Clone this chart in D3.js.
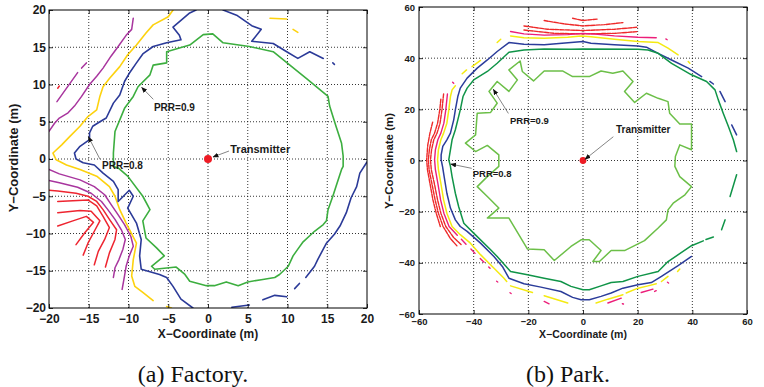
<!DOCTYPE html>
<html>
<head>
<meta charset="utf-8">
<script src="https://cdn.jsdelivr.net/npm/d3@7"></script>
<style>
body { margin: 0; background: #fff; }
svg { display: block; }
</style>
</head>
<body>
<svg id="chart" width="764" height="387"></svg>
<script>
// ---------- (a) Factory : contour data (metres) ----------
var factoryTicks = [-20, -15, -10, -5, 0, 5, 10, 15, 20];

var factoryGreen = [
  [[-11.9,-1.0],[-11.9,0.8],[-11.7,3.7],[-10.5,6.8],[-9.4,8.4],[-8.8,9.7],[-7.3,11.3],[-6.9,12.6],[-5.2,12.9],[-5.2,14.4],[-3.6,14.9],[-2.3,15.3],[-0.6,16.7],[0.6,16.8],[1.9,15.6],[5.2,15.1],[8.2,14.4],[10.3,12.6],[12.4,10.8],[15.1,8.4],[15.3,7.1],[16.1,4.4],[16.8,2.1],[17.0,0.4],[17.0,-1.0],[16.8,-1.4],[16.1,-3.7],[15.7,-5.0],[15.1,-6.8],[14.9,-8.3],[14.5,-8.8],[13.4,-9.7],[13.0,-10.1],[11.9,-11.2],[11.3,-12.1],[10.7,-13.0],[10.1,-14.4],[9.0,-15.5],[8.4,-15.9],[6.7,-16.2],[5.0,-16.5],[3.8,-17.0],[2.3,-16.5],[0.8,-17.0],[-0.2,-17.0],[-2.3,-16.4],[-2.9,-15.5],[-4.0,-14.5],[-6.7,-14.8],[-7.1,-14.4],[-5.5,-13.0],[-6.5,-11.9],[-7.8,-10.6],[-8.2,-8.3],[-7.3,-6.8],[-8.2,-5.0],[-10.1,-2.3],[-11.3,-1.2],[-11.9,-1.0]]
];

var factoryBlue = [
  [[-1.5,20.0],[-2.3,19.6],[-4.4,17.7],[-3.6,16.6],[-3.4,16.0],[-5.2,15.6],[-6.9,15.1],[-8.2,14.1],[-9.0,12.9],[-9.9,11.5],[-10.5,10.4],[-11.1,8.6],[-11.9,7.5],[-12.8,5.5],[-13.6,5.0],[-14.5,4.4],[-14.9,3.5],[-14.9,2.6],[-16.1,1.7],[-16.8,0.8],[-16.6,0.0],[-15.7,-0.5],[-14.3,-0.8],[-13.2,-1.9],[-11.9,-3.0],[-11.3,-4.1],[-11.3,-5.7],[-9.9,-4.2],[-9.4,-5.0],[-10.1,-6.6],[-9.0,-8.6],[-8.4,-10.8],[-8.6,-13.0],[-8.4,-14.8],[-6.1,-15.5],[-5.2,-15.9],[-4.4,-17.1],[-3.4,-18.8],[-1.9,-20.0]],
  [[1.9,20.0],[3.6,19.3],[5.5,17.9],[6.7,17.4],[5.5,15.8],[8.2,15.5],[9.9,14.4],[11.3,13.5],[12.8,14.4],[14.5,13.5]],
  [[15.7,12.9],[15.9,12.7]],
  [[20.0,-0.4],[19.1,-1.9],[18.7,-3.7],[18.0,-5.2],[17.4,-7.2],[16.6,-9.0],[15.9,-10.1],[14.9,-11.3],[14.5,-12.1],[13.8,-13.5],[13.4,-14.4],[12.3,-15.9]],
  [[11.5,-16.7],[10.9,-17.4]],
  [[9.9,-18.5],[8.4,-18.3],[6.9,-18.9]],
  [[5.2,-19.6],[3.0,-19.9]]
];

var factoryYellow = [
  [[-4.4,20.0],[-5.0,19.1],[-6.9,18.0],[-7.8,16.9],[-9.0,15.3],[-10.1,14.0],[-11.1,12.4],[-12.4,10.8],[-13.2,9.7],[-13.6,8.4],[-14.0,6.6],[-15.1,5.7],[-16.1,4.4],[-17.4,3.0],[-18.4,1.9],[-19.5,0.8],[-19.1,-0.1],[-17.8,-0.8],[-16.1,-1.4],[-14.0,-2.3],[-12.4,-3.7],[-11.7,-5.0],[-11.1,-6.8],[-10.3,-8.6],[-9.0,-11.3],[-9.4,-13.5],[-9.6,-15.7],[-9.2,-17.1],[-8.2,-17.9],[-6.9,-19.0]],
  [[-5.2,-19.8],[-4.6,-20.0]],
  [[7.8,18.9],[9.9,18.8]],
  [[10.7,17.4],[11.3,17.0]]
];

var factoryMagenta = [
  [[-9.4,18.9],[-9.6,17.4],[-10.3,16.6],[-11.3,15.1],[-12.2,13.8],[-13.2,12.2],[-14.0,11.1],[-14.9,10.0],[-15.9,8.4],[-16.8,7.1],[-17.6,6.2],[-18.7,5.5],[-19.3,4.8],[-20.0,3.7]],
  [[-19.0,7.7],[-16.4,11.6]],
  [[-15.9,12.2],[-15.3,12.9]],
  [[-20.0,-1.4],[-18.7,-2.0],[-16.1,-2.8],[-14.3,-3.7],[-13.0,-4.8],[-12.2,-6.1],[-11.3,-7.5],[-10.5,-8.8],[-9.7,-10.4],[-9.4,-11.7],[-9.9,-13.0],[-10.3,-14.4],[-10.5,-15.7],[-10.8,-17.5]],
  [[-20.0,-2.9],[-18.7,-3.2],[-16.4,-3.8],[-14.7,-4.6],[-13.4,-5.7],[-12.6,-6.8],[-11.7,-8.1],[-10.9,-9.5],[-10.4,-10.8],[-10.7,-12.1],[-11.2,-13.5],[-11.7,-14.6],[-11.9,-15.9]]
];

var factoryRed = [
  [[-18.9,9.5],[-18.7,9.8]],
  [[-20.0,-4.2],[-18.9,-4.3],[-16.6,-4.6],[-15.1,-5.0],[-14.0,-5.7],[-13.2,-6.8],[-12.4,-8.1],[-11.5,-9.5],[-11.7,-10.8],[-12.4,-12.6],[-12.9,-14.5]],
  [[-18.9,-5.7],[-15.1,-5.5],[-14.0,-6.3],[-13.2,-7.7],[-12.4,-9.2],[-13.0,-10.8],[-13.8,-12.4],[-14.3,-14.2]],
  [[-18.9,-7.2],[-16.1,-6.9],[-14.7,-7.0],[-13.6,-8.3],[-14.3,-9.7],[-15.1,-11.3],[-15.7,-12.9]],
  [[-18.9,-9.0],[-17.0,-8.3],[-15.3,-7.7],[-14.4,-8.5],[-15.5,-9.9],[-16.6,-11.5]]
];

var factoryNotes = [
  { label: "Transmitter", text: [2.8, 0.8], from: [2.64, 1.07], to: [0.63, 0.27] },
  { label: "PRR=0.9", text: [-6.8, 6.44], from: [-6.88, 8.01], to: [-8.34, 9.62] },
  { label: "PRR=0.8", text: [-13.33, -1.34], from: [-13.58, -0.04], to: [-15.05, 2.99] }
];

// ---------- (b) Park : contour data (metres) ----------
var parkTicks = [-60, -40, -20, 0, 20, 40, 60];

var parkLightGreen = [
  [[-23.0,38.9],[-22.2,34.8],[-18.1,31.1],[-14.2,35.0],[-7.5,35.0],[-3.8,32.8],[-0.1,32.8],[2.3,32.8],[6.6,35.0],[10.9,34.1],[14.6,35.0],[18.3,30.9],[15.2,27.0],[18.9,22.7],[23.2,26.3],[27.5,24.3],[31.1,23.0],[31.7,18.5],[35.4,14.3],[39.7,14.3],[39.7,4.2],[35.4,6.1],[33.8,1.6],[33.6,-2.3],[35.4,-6.3],[39.7,-10.2],[37.3,-13.4],[33.0,-16.7],[31.1,-19.3],[30.5,-23.2],[27.5,-26.4],[22.5,-31.3],[15.2,-35.2],[10.3,-35.2],[6.0,-39.5],[3.6,-39.5],[6.6,-35.2],[2.3,-31.0],[-0.7,-31.0],[-4.4,-33.6],[-10.5,-39.1],[-14.2,-34.9],[-20.3,-34.6],[-27.1,-22.5],[-35.0,-22.5],[-30.8,-18.6],[-35.0,-14.1],[-38.7,-10.2],[-35.0,-6.3],[-30.8,-2.3],[-30.8,2.2],[-35.0,5.9],[-39.3,3.5],[-43.0,6.8],[-39.3,10.0],[-38.7,18.5],[-33.8,18.8],[-31.4,22.4],[-34.4,27.0],[-31.4,30.9],[-27.1,27.0],[-24.0,31.5],[-27.1,35.4],[-23.0,38.9]]
];

var parkDarkGreen = [
  [[44.0,-31.4],[39.7,-33.3],[31.1,-39.5],[27.5,-43.4],[20.1,-45.3],[14.6,-47.3],[10.3,-47.7],[6.6,-49.0],[2.3,-50.5],[0,-50.5],[-4.4,-49.2],[-8.1,-47.3],[-14.2,-46.0],[-20.3,-44.7],[-26.5,-43.4],[-31.4,-37.5],[-33.8,-34.9],[-40.0,-28.4],[-43.6,-24.5],[-45.5,-18.0],[-46.7,-12.8],[-47.9,-6.3],[-48.5,-2.3],[-49.1,0.3],[-48.5,4.2],[-47.9,8.1],[-46.7,12.0],[-45.8,15.9],[-44.9,19.8],[-43.9,25.0],[-42.4,28.3],[-40.0,31.5],[-35.0,34.8],[-31.4,38.0],[-27.1,42.3],[-21.6,43.2],[-14.2,43.6],[-4.4,43.5],[0,43.6],[20.1,43.5],[23.8,43.2],[27.5,41.9],[32.4,38.0],[39.7,33.5],[45.2,30.9],[48.3,27.6],[49.5,23.7],[51.3,18.5],[53.2,13.3],[55.0,8.1],[56.2,3.5]],
  [[56.2,-5.6],[53.8,-14.1]],
  [[52.0,-23.2],[50.7,-27.1]],
  [[47.7,-29.9],[45.0,-30.9]]
];

var parkBlue = [
  [[43.4,32.8],[38.5,36.1],[32.4,39.3],[27.5,41.9],[23.2,44.3],[20.1,44.8],[11.5,45.2],[2.9,45.8],[0,46.5],[-4.4,46.1],[-14.2,45.2],[-21.6,45.4],[-27.1,46.1],[-31.4,42.6],[-35.0,39.3],[-38.7,36.1],[-42.4,32.2],[-44.9,28.3],[-45.8,25.0],[-46.7,19.8],[-47.3,15.9],[-48.5,10.7],[-49.8,8.1],[-51.3,5.5],[-51.9,2.2],[-51.9,0.3],[-51.4,-2.3],[-50.8,-6.3],[-49.8,-12.8],[-48.5,-18.6],[-46.7,-23.2],[-44.9,-25.8],[-42.4,-27.7],[-37.5,-32.3],[-32.6,-37.5],[-29.5,-41.4],[-27.1,-46.0],[-21.6,-48.2],[-15.4,-49.5],[-8.1,-51.2],[-3.8,-53.5],[-0.7,-54.4],[2.3,-54.4],[6.6,-53.1],[10.3,-51.8],[14.6,-49.9],[20.1,-48.6],[25.0,-47.7],[28.7,-45.3],[34.8,-41.1],[39.7,-37.5]],
  [[46.4,30.9],[47.7,29.9]],
  [[50.1,27.0],[52.0,23.0]],
  [[54.4,13.9],[56.2,10.0]]
];

var parkYellow = [
  [[-26.5,48.7],[-21.6,48.0],[-14.2,47.8],[-5.6,48.2],[-0.7,48.7],[2.9,48.4],[11.5,47.4],[20.1,46.5],[27.5,46.1],[31.1,43.9],[34.8,41.3]],
  [[38.5,38.7],[39.1,38.0]],
  [[-31.4,46.1],[-30.1,47.4]],
  [[-40.6,36.7],[-37.5,39.1]],
  [[-44.2,33.9],[-42.6,35.4]],
  [[-46.7,29.2],[-47.9,27.6],[-48.5,25.0],[-49.1,19.8],[-49.8,14.6],[-51.0,10.7],[-52.0,8.1],[-52.9,4.2],[-53.2,0.3],[-52.9,-3.6],[-52.0,-8.9],[-51.0,-15.4],[-49.8,-20.6],[-47.9,-25.8],[-44.9,-29.0],[-41.2,-32.3],[-37.5,-36.8],[-35.0,-39.5],[-32.0,-42.7],[-28.9,-46.0],[-27.9,-47.3]],
  [[-26.5,-49.0],[-18.5,-51.6]],
  [[-14.2,-52.9],[-5.6,-55.7]],
  [[4.8,-55.7],[9.1,-54.2],[14.6,-52.5]],
  [[15.8,-51.8],[20.1,-49.9],[23.8,-49.0],[26.8,-48.2]],
  [[28.7,-47.3],[31.1,-45.3]],
  [[34.6,-43.4],[35.4,-42.4]]
];

var parkPink = [
  [[-26.5,50.4],[-21.6,49.5],[-14.2,49.0],[-5.6,49.2],[0,49.7],[5.4,49.3],[11.5,48.7],[20.1,48.2],[26.8,48.0]],
  [[30.3,47.5],[30.8,47.2]],
  [[-47.7,30.6],[-47.3,30.2]],
  [[-49.6,26.0],[-50.2,19.8],[-50.9,14.6],[-52.0,10.7],[-53.1,8.1],[-54.0,4.2],[-54.3,0.3],[-54.0,-3.6],[-53.1,-8.9],[-52.1,-15.4],[-50.9,-20.6],[-49.0,-25.8],[-46.0,-29.2]],
  [[-44.5,-30.8],[-42.8,-32.7]],
  [[-41.0,-34.6],[-39.5,-36.3]],
  [[-37.6,-38.3],[-36.2,-39.8]],
  [[-34.5,-41.6],[-34.0,-42.1]],
  [[-31.6,-47.2],[-31.2,-47.5]],
  [[-26.7,-51.7],[-26.3,-52.0]],
  [[-14.2,-55.1],[-12.4,-56.0]],
  [[9.1,-55.7],[14.0,-53.8]],
  [[14.4,-56.0],[14.8,-56.1]],
  [[21.3,-51.6],[25.6,-50.3]],
  [[26.2,-51.2],[26.8,-50.9]],
  [[30.9,-47.6],[31.3,-47.9]]
];

var parkRed = [
  [[-3.8,55.6],[0,54.7],[5.4,55.3]],
  [[-14.2,54.7],[-6.9,53.4],[0,52.6],[7.8,53.1],[14.6,53.9]],
  [[-21.6,52.6],[-13.0,51.3],[0,50.8],[11.5,51.3],[20.1,52.1]],
  [[-21.6,51.0],[-10.5,49.7],[0,49.5],[11.5,49.7],[20.1,50.4]],
  [[-51.0,26.0],[-51.6,19.8],[-52.3,14.6],[-53.4,10.7],[-54.6,8.1],[-55.4,4.2],[-55.8,0.3],[-55.5,-3.6],[-54.4,-8.9],[-53.2,-15.4],[-52.0,-20.6],[-50.2,-25.8],[-47.4,-30.0],[-44.5,-33.0]],
  [[-52.0,24.0],[-52.4,19.8],[-53.2,14.6],[-54.3,10.7],[-55.5,8.1],[-56.2,4.2],[-56.6,0.3],[-56.3,-3.6],[-55.3,-8.9],[-54.1,-15.4],[-52.9,-20.6],[-51.2,-25.8],[-48.5,-30.5],[-46.0,-33.5]],
  [[-55.0,15.0],[-56.0,10.7],[-56.8,6.0],[-57.2,0.3],[-56.9,-3.6],[-56.0,-8.9],[-54.9,-15.4],[-53.7,-20.6],[-52.2,-25.8]]
];

var parkNotes = [
  { label: "Transmitter", text: [12.08, 10.7], from: [11.1, 9.3], to: [0.74, 0.46] },
  { label: "PRR=0.9", text: [-26.7, 14.26], from: [-27.3, 18.4], to: [-32.8, 27.8] },
  { label: "PRR=0.8", text: [-40.35, -6.46], from: [-40.7, -3.07], to: [-48.4, -1.38] }
];

var captions = ["(a)  Factory.", "(b)  Park."];

// ---------- drawing ----------
var svg = d3.select("#chart");

svg.append("defs").append("marker")
    .attr("id", "arrow")
    .attr("viewBox", "0 0 10 10")
    .attr("refX", 9).attr("refY", 5)
    .attr("markerWidth", 6).attr("markerHeight", 6)
    .attr("markerUnits", "userSpaceOnUse")
    .attr("orient", "auto")
  .append("path")
    .attr("d", "M0,1 L10,5 L0,9 Z")
    .attr("fill", "#111");

function fmt(d) {
    return d < 0 ? "\u2212" + Math.abs(d) : String(d);
}

function drawPanel(opt) {
    var g = svg.append("g").attr("transform", "translate(" + opt.left + "," + opt.top + ")");
    var x = d3.scaleLinear().domain(opt.domain).range([0, opt.width]);
    var y = d3.scaleLinear().domain(opt.domain).range([opt.height, 0]);

    g.append("clipPath").attr("id", opt.id + "-clip")
      .append("rect").attr("width", opt.width).attr("height", opt.height);

    // dotted grid
    var inner = opt.ticks.slice(1, -1);
    g.append("g").selectAll("line").data(inner).enter().append("line")
        .attr("x1", function (d) { return x(d); })
        .attr("x2", function (d) { return x(d); })
        .attr("y1", 0).attr("y2", opt.height)
        .attr("stroke", "#000").attr("stroke-width", 0.8)
        .attr("stroke-dasharray", "1,2");
    g.append("g").selectAll("line").data(inner).enter().append("line")
        .attr("y1", function (d) { return y(d); })
        .attr("y2", function (d) { return y(d); })
        .attr("x1", 0).attr("x2", opt.width)
        .attr("stroke", "#000").attr("stroke-width", 0.8)
        .attr("stroke-dasharray", "1,2");

    // contour lines
    var line = d3.line().x(function (d) { return x(d[0]); }).y(function (d) { return y(d[1]); });
    var lg = g.append("g").attr("clip-path", "url(#" + opt.id + "-clip)");
    opt.contours.forEach(function (c) {
        lg.append("g").selectAll("path").data(c.segs).enter().append("path")
            .attr("d", line)
            .attr("fill", "none")
            .attr("stroke", c.color)
            .attr("stroke-width", c.width)
            .attr("stroke-linejoin", "round")
            .attr("stroke-linecap", "round")
            .attr("stroke-dasharray", c.dash || null);
    });

    // axes
    var ax = g.append("g").attr("transform", "translate(0," + opt.height + ")")
        .call(d3.axisBottom(x).tickValues(opt.ticks).tickSize(-4).tickPadding(opt.xPad).tickFormat(fmt));
    var ay = g.append("g")
        .call(d3.axisLeft(y).tickValues(opt.ticks).tickSize(-4).tickPadding(opt.yPad).tickFormat(fmt));
    var at = g.append("g")
        .call(d3.axisTop(x).tickValues(opt.ticks).tickSize(-4).tickFormat(""));
    var ar = g.append("g").attr("transform", "translate(" + opt.width + ",0)")
        .call(d3.axisRight(y).tickValues(opt.ticks).tickSize(-4).tickFormat(""));
    [ax, ay, at, ar].forEach(function (a) {
        a.select(".domain").remove();
        a.selectAll(".tick line").attr("stroke", "#000").attr("stroke-width", 0.8);
        a.selectAll("text")
            .attr("fill", "#1a1a1a")
            .style("font-family", "'Liberation Sans', Arial, sans-serif")
            .style("font-weight", "bold")
            .style("font-size", opt.tickFont + "px");
    });

    g.append("rect")
        .attr("width", opt.width).attr("height", opt.height)
        .attr("fill", "none").attr("stroke", "#000").attr("stroke-width", 1);

    // axis titles
    g.append("text")
        .attr("x", opt.width / 2).attr("y", opt.xTitleY)
        .attr("text-anchor", "middle")
        .attr("fill", "#1a1a1a")
        .style("font-family", "'Liberation Sans', Arial, sans-serif")
        .style("font-weight", "bold")
        .style("font-size", opt.xTitleFont + "px")
        .text("X\u2212Coordinate (m)");
    g.append("text")
        .attr("transform", "translate(" + opt.yTitleX + "," + opt.yTitleCY + ") rotate(-90)")
        .attr("text-anchor", "middle")
        .attr("fill", "#1a1a1a")
        .style("font-family", "'Liberation Sans', Arial, sans-serif")
        .style("font-weight", "bold")
        .style("font-size", opt.yTitleFont + "px")
        .text("Y\u2212Coordinate (m)");

    // transmitter
    g.append("circle")
        .attr("cx", x(0)).attr("cy", y(0)).attr("r", opt.dotR)
        .attr("fill", "#ee1c25");

    // annotations
    var ng = g.append("g");
    ng.selectAll("line").data(opt.notes).enter().append("line")
        .attr("x1", function (d) { return x(d.from[0]); })
        .attr("y1", function (d) { return y(d.from[1]); })
        .attr("x2", function (d) { return x(d.to[0]); })
        .attr("y2", function (d) { return y(d.to[1]); })
        .attr("stroke", "#666").attr("stroke-width", 0.8)
        .attr("marker-end", "url(#arrow)");
    ng.selectAll("text").data(opt.notes).enter().append("text")
        .attr("x", function (d) { return x(d.text[0]); })
        .attr("y", function (d) { return y(d.text[1]); })
        .attr("fill", "#1a1a1a")
        .style("font-family", "'Liberation Sans', Arial, sans-serif")
        .style("font-weight", "bold")
        .style("font-size", function (d) { return (d.label === "Transmitter" ? opt.txFont : opt.prrFont) + "px"; })
        .text(function (d) { return d.label; });

    // caption
    svg.append("text")
        .attr("x", opt.capX).attr("y", 382)
        .attr("text-anchor", "middle")
        .attr("fill", "#111")
        .attr("font-family", "Liberation Serif, DejaVu Serif, serif")
        .attr("font-size", 24)
        .text(opt.caption);
}

drawPanel({
    id: "factory", left: 49, top: 10, width: 318, height: 298,
    domain: [-20, 20], ticks: factoryTicks,
    contours: [
        { segs: factoryRed, color: "#ee2530", width: 1.5 },
        { segs: factoryMagenta, color: "#a8359e", width: 1.5 },
        { segs: factoryYellow, color: "#fdd20e", width: 1.6 },
        { segs: factoryBlue, color: "#2b3a98", width: 1.6 },
        { segs: factoryGreen, color: "#3cae3f", width: 1.6 }
    ],
    notes: factoryNotes,
    xPad: 6, yPad: 3, tickFont: 12,
    xTitleY: 328, xTitleFont: 12,
    yTitleX: -31, yTitleCY: 148, yTitleFont: 13,
    dotR: 4, txFont: 11, prrFont: 10,
    capX: 193, caption: captions[0]
});

drawPanel({
    id: "park", left: 419, top: 7, width: 328, height: 307,
    domain: [-60, 60], ticks: parkTicks,
    contours: [
        { segs: parkRed, color: "#ee2a2a", width: 1.4, dash: "4,1.2" },
        { segs: parkPink, color: "#ec1e79", width: 1.4 },
        { segs: parkYellow, color: "#f4ea12", width: 1.5 },
        { segs: parkBlue, color: "#2b3c9a", width: 1.5 },
        { segs: parkDarkGreen, color: "#109448", width: 1.5 },
        { segs: parkLightGreen, color: "#6cbf48", width: 1.5 }
    ],
    notes: parkNotes,
    xPad: 4, yPad: 4, tickFont: 9.5,
    xTitleY: 331, xTitleFont: 10.5,
    yTitleX: -26, yTitleCY: 154, yTitleFont: 11.5,
    dotR: 3.4, txFont: 10, prrFont: 9.5,
    capX: 568, caption: captions[1]
});
</script>
</body>
</html>
